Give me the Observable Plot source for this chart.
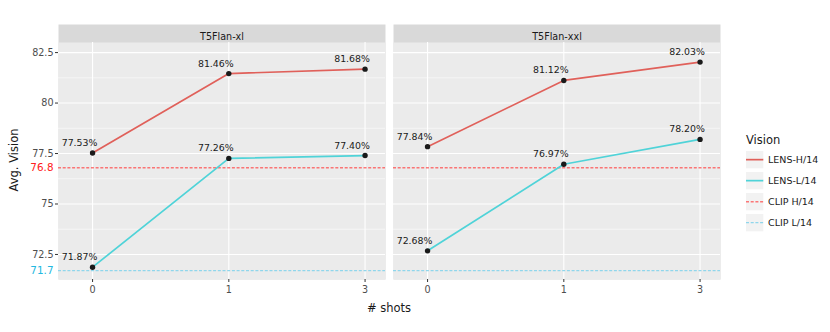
<!DOCTYPE html>
<html><head><meta charset="utf-8">
<script src="https://cdn.jsdelivr.net/npm/d3@7"></script>
<script src="https://cdn.jsdelivr.net/npm/@observablehq/plot@0.6"></script>
<style>
body{margin:0;background:#fff;font-family:"DejaVu Sans",sans-serif;}
#wrap{position:relative;width:830px;height:332px;overflow:hidden;}
.ttl{position:absolute;color:#1a1a1a;font-size:11.5px;white-space:nowrap;}
#ytitle{left:14px;top:160px;transform:translate(-50%,-50%) rotate(-90deg);}
#xtitle{left:389px;top:308px;transform:translate(-50%,-50%);}
#legend{position:absolute;left:740px;top:128px;}
</style></head><body><div id="wrap"></div>
<script>
const models = ["T5Flan-xl", "T5Flan-xxl"];
const shotLabels = ["0", "1", "3"];
const seriesNames = ["LENS-H/14", "LENS-L/14", "CLIP H/14", "CLIP L/14"];
const lensH_xl = [77.53, 81.46, 81.68];
const lensH_xxl = [77.84, 81.12, 82.03];
const lensL_xl = [71.87, 77.26, 77.40];
const lensL_xxl = [72.68, 76.97, 78.20];
const clipH = 76.8;
const clipL = 71.7;
const yTicks = [72.5, 75, 77.5, 80, 82.5];
const yMinor = [73.75, 76.25, 78.75, 81.25];

const colH = "#e0605a", colL = "#4fd3d8", colClipH = "#ff4d4d", colClipL = "#8fd6ec";
const txtClipH = "#ff2020", txtClipL = "#22b8e0";
const dash = "3,1.7";

const rows = [];
function add(model, series, vals){ vals.forEach((v,i)=>rows.push({model, series, shot:i, value:v})); }
add(models[0], seriesNames[0], lensH_xl);
add(models[1], seriesNames[0], lensH_xxl);
add(models[0], seriesNames[1], lensL_xl);
add(models[1], seriesNames[1], lensL_xxl);

const chart = Plot.plot({
  width: 830, height: 332,
  marginLeft: 57, marginRight: 109, marginTop: 42, marginBottom: 53,
  style: {fontFamily: "DejaVu Sans", fontSize: "9.5px", color: "#4d4d4d", background: "transparent"},
  x: {domain: [-0.25, 2.15], axis: null},
  y: {domain: [71.26, 83.0], axis: null},
  fx: {domain: models, paddingInner: 0.0238, paddingOuter: 0, axis: null},
  color: {domain: seriesNames.slice(0,2), range: [colH, colL]},
  marks: [
    Plot.frame({fill: "#d9d9d9", stroke: null, insetTop: -18}),
    Plot.frame({fill: "#ebebeb", stroke: null}),
    Plot.ruleY(yMinor, {stroke: "#fff", strokeWidth: 0.55}),
    Plot.ruleY(yTicks, {stroke: "#fff", strokeWidth: 1.1}),
    Plot.ruleX([0, 1, 2], {stroke: "#fff", strokeWidth: 1.1}),
    Plot.ruleY([clipH], {stroke: colClipH, strokeOpacity: 0.75, strokeDasharray: dash, strokeWidth: 1.5}),
    Plot.ruleY([clipL], {stroke: colClipL, strokeDasharray: dash, strokeWidth: 1.4}),
    Plot.line(rows, {fx: "model", x: "shot", y: "value", z: "series", stroke: "series", strokeWidth: 1.7}),
    Plot.dot(rows, {fx: "model", x: "shot", y: "value", r: 2.7, fill: "#1a1a1a", stroke: null}),
    Plot.text(rows, {fx: "model", x: "shot", y: "value", text: d => d.value.toFixed(2) + "%", dx: -13, dy: -10, fill: "#1a1a1a", fontSize: 9.4}),
    Plot.text(models, {fx: d => d, text: d => d, frameAnchor: "top", dy: -9, fill: "#1a1a1a", fontSize: 9.6}),
    Plot.axisY({ticks: yTicks, tickSize: 3, tickPadding: 2, label: null, tickFormat: d => String(d), stroke: "#333", fill: "#4d4d4d", fontSize: 9.6}),
    Plot.axisY({ticks: [clipH], tickSize: 0, tickPadding: 5, label: null, tickFormat: d => String(d), color: txtClipH, fontSize: 10.4}),
    Plot.axisY({ticks: [clipL], tickSize: 0, tickPadding: 5, label: null, tickFormat: d => String(d), color: txtClipL, fontSize: 10.4}),
    Plot.axisX({ticks: [0, 1, 2], tickFormat: i => shotLabels[i], tickSize: 3, tickPadding: 4, label: null, stroke: "#333", fill: "#4d4d4d", fontSize: 9.6})
  ]
});

const wrap = document.getElementById("wrap");
wrap.appendChild(chart);

const yt = document.createElement("div"); yt.className = "ttl"; yt.id = "ytitle"; yt.textContent = "Avg. Vision"; wrap.appendChild(yt);
const xt = document.createElement("div"); xt.className = "ttl"; xt.id = "xtitle"; xt.textContent = "# shots"; wrap.appendChild(xt);

// legend
const legendColors = [colH, colL, colClipH, colClipL];
const legendDash = [null, null, dash, dash];
const legendWidth = [1.7, 1.7, 1.5, 1.4];
const legendOpacity = [1, 1, 0.75, 1];
const lg = d3.select(wrap).append("svg").attr("id", "legend").attr("width", 90).attr("height", 110)
  .style("font-family", "DejaVu Sans");
lg.append("text").attr("x", 6).attr("y", 16).attr("fill", "#1a1a1a").attr("font-size", 11.5).text("Vision");
const items = lg.selectAll("g.it").data(seriesNames).join("g").attr("class", "it")
  .attr("transform", (d, i) => `translate(6,${23 + i * 21})`);
items.append("rect").attr("width", 17.3).attr("height", 17.3).attr("fill", "#f2f2f2");
items.append("line").attr("x1", 0).attr("x2", 17.3).attr("y1", 8.65).attr("y2", 8.65)
  .attr("stroke", (d, i) => legendColors[i]).attr("stroke-width", (d, i) => legendWidth[i])
  .attr("stroke-opacity", (d, i) => legendOpacity[i])
  .attr("stroke-dasharray", (d, i) => legendDash[i]);
items.append("text").attr("x", 22).attr("y", 8.65).attr("dy", "0.35em").attr("font-size", 9.5)
  .attr("fill", "#1a1a1a").text(d => d);
</script></body></html>
